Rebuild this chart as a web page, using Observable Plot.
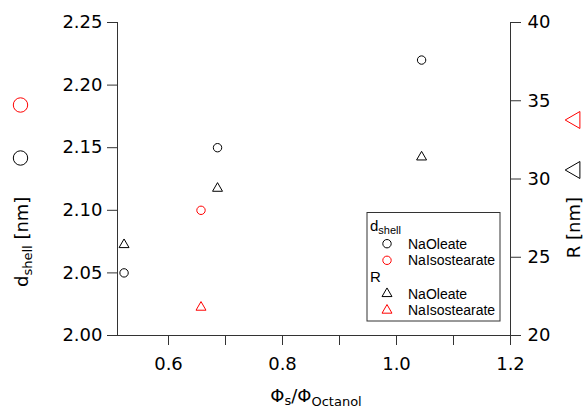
<!DOCTYPE html>
<html><head><meta charset="utf-8">
<script src="https://cdn.jsdelivr.net/npm/d3@7"></script>
<script src="https://cdn.jsdelivr.net/npm/@observablehq/plot@0.6"></script>
<style>
body{margin:0;background:#fff}
svg{font-family:"DejaVu Sans",sans-serif}
</style>
</head><body><div id="chart"></div>
<script>
// ---- data ----
const naOleatePhi = [0.522, 0.686, 1.044];
const naOleateD   = [2.05, 2.15, 2.22];
const naOleateR   = [25.8, 29.4, 31.4];
const naIsoPhi    = [0.657];
const naIsoD      = [2.10];
const naIsoR      = [21.8];

const xTicks      = [0.6, 0.7, 0.8, 0.9, 1.0, 1.1, 1.2];
const xLabelTicks = [0.6, 0.8, 1.0, 1.2];
const leftTicks   = [2.00, 2.05, 2.10, 2.15, 2.20, 2.25];
const rightTicks  = [20, 25, 30, 35, 40];
const seriesNames = ["NaOleate", "NaIsostearate"];
const seriesColors = ["#000000", "#ff0000"];

// right axis (R) mapped onto the left (d_shell) scale
const dMin = 2.00, dMax = 2.25, rMin = 20, rMax = 40;
const yFromR = r => dMin + (r - rMin) * (dMax - dMin) / (rMax - rMin);
const rFromY = y => rMin + (y - dMin) * (rMax - rMin) / (dMax - dMin);

const circles = [
  ...naOleatePhi.map((x, i) => ({x, y: naOleateD[i], s: 0})),
  ...naIsoPhi.map((x, i) => ({x, y: naIsoD[i], s: 1}))
];
const triangles = [
  ...naOleatePhi.map((x, i) => ({x, y: yFromR(naOleateR[i]), s: 0})),
  ...naIsoPhi.map((x, i) => ({x, y: yFromR(naIsoR[i]), s: 1}))
];

const xMin = 0.5105, xMax = 1.2;
const axisColor = "#333";

const chart = Plot.plot({
  width: 588, height: 411,
  marginLeft: 117, marginRight: 78, marginTop: 22, marginBottom: 76,
  x: {domain: [xMin, xMax]},
  y: {domain: [dMin, dMax]},
  style: {background: "white", color: "#000", fontFamily: "DejaVu Sans"},
  marks: [
    Plot.axisX({ticks: xTicks, tickSize: 10, tickPadding: 12, fontSize: 18, stroke: axisColor,
      tickFormat: d => xLabelTicks.some(t => Math.abs(t - d) < 1e-9) ? d.toFixed(1) : "", label: null}),
    Plot.axisY({anchor: "left", ticks: leftTicks, tickSize: 10, tickPadding: 5, fontSize: 18, stroke: axisColor,
      tickFormat: d => d.toFixed(2), label: null}),
    Plot.axisY({anchor: "right", ticks: rightTicks.map(yFromR), tickSize: 10, tickPadding: 7, fontSize: 18, stroke: axisColor,
      tickFormat: d => String(Math.round(rFromY(d))), label: null}),
    Plot.ruleY([dMin], {stroke: axisColor}),
    Plot.ruleX([xMin], {stroke: axisColor}),
    Plot.ruleX([xMax], {stroke: axisColor}),
    Plot.dot(circles, {x: "x", y: "y", r: 4.2, symbol: "circle", fill: "none",
      stroke: d => seriesColors[d.s], strokeWidth: 1}),
    Plot.dot(triangles, {x: "x", y: "y", r: 3.7, symbol: "triangle", fill: "none",
      stroke: d => seriesColors[d.s], strokeWidth: 1})
  ]
});
document.getElementById("chart").appendChild(chart);

const svg = d3.select(chart);

// ---- axis titles ----
// x label
const xl = svg.append("text").attr("x", 316).attr("y", 402).attr("text-anchor", "middle")
  .attr("font-size", 18).attr("fill", "#000");
xl.append("tspan").text("Φ");
xl.append("tspan").attr("font-size", 13).attr("dy", 3).text("s");
xl.append("tspan").attr("dy", -3).text("/Φ");
xl.append("tspan").attr("font-size", 13).attr("dy", 4).text("Octanol");

// left label
const yl = svg.append("text").attr("transform", "translate(28,287) rotate(-90)")
  .attr("text-anchor", "start").attr("font-size", 18).attr("fill", "#000");
yl.append("tspan").text("d");
yl.append("tspan").attr("font-size", 13).attr("dy", 4).text("shell");
yl.append("tspan").attr("dy", -4).text(" [nm]");
seriesColors.forEach((c, i) => {
  svg.append("circle").attr("cx", 20.5).attr("cy", 158 - i * 53).attr("r", 7.2)
    .attr("fill", "none").attr("stroke", c).attr("stroke-width", 1);
});

// right label
svg.append("text").attr("transform", "translate(580,197) rotate(-90)")
  .attr("text-anchor", "end").attr("font-size", 18).attr("fill", "#000").text("R [nm]");
const bigTri = d3.symbol(d3.symbolTriangle, 125);
seriesColors.forEach((c, i) => {
  svg.append("path").attr("d", bigTri())
    .attr("transform", `translate(575,${170 - i * 50}) rotate(-90)`)
    .attr("fill", "none").attr("stroke", c).attr("stroke-width", 1);
});

// ---- legend ----
const lg = svg.append("g").attr("font-family", "Liberation Sans, Arial, sans-serif")
  .attr("font-size", 14).attr("text-anchor", "start").attr("fill", "#000");
lg.append("rect").attr("x", 367).attr("y", 212.5).attr("width", 133).attr("height", 108.5)
  .attr("fill", "white").attr("stroke", "#333").attr("stroke-width", 1);
const t1 = lg.append("text").attr("x", 370).attr("y", 231);
t1.append("tspan").attr("font-size", 15).text("d");
t1.append("tspan").attr("font-size", 11).attr("dy", 3).text("shell");
lg.append("text").attr("x", 370).attr("y", 282).attr("font-size", 15).text("R");
const smallTri = d3.symbol(d3.symbolTriangle, Math.PI * 3.7 * 3.7);
seriesNames.forEach((n, i) => {
  const yc = 243.7 + i * 16.6;
  lg.append("circle").attr("cx", 387).attr("cy", yc).attr("r", 4.2)
    .attr("fill", "none").attr("stroke", seriesColors[i]);
  lg.append("text").attr("x", 408).attr("y", yc + 5).text(n);
  const yt = 293.7 + i * 16.6;
  lg.append("path").attr("d", smallTri()).attr("transform", `translate(387,${yt})`)
    .attr("fill", "none").attr("stroke", seriesColors[i]);
  lg.append("text").attr("x", 408).attr("y", yt + 5).text(n);
});
</script>
</body></html>
